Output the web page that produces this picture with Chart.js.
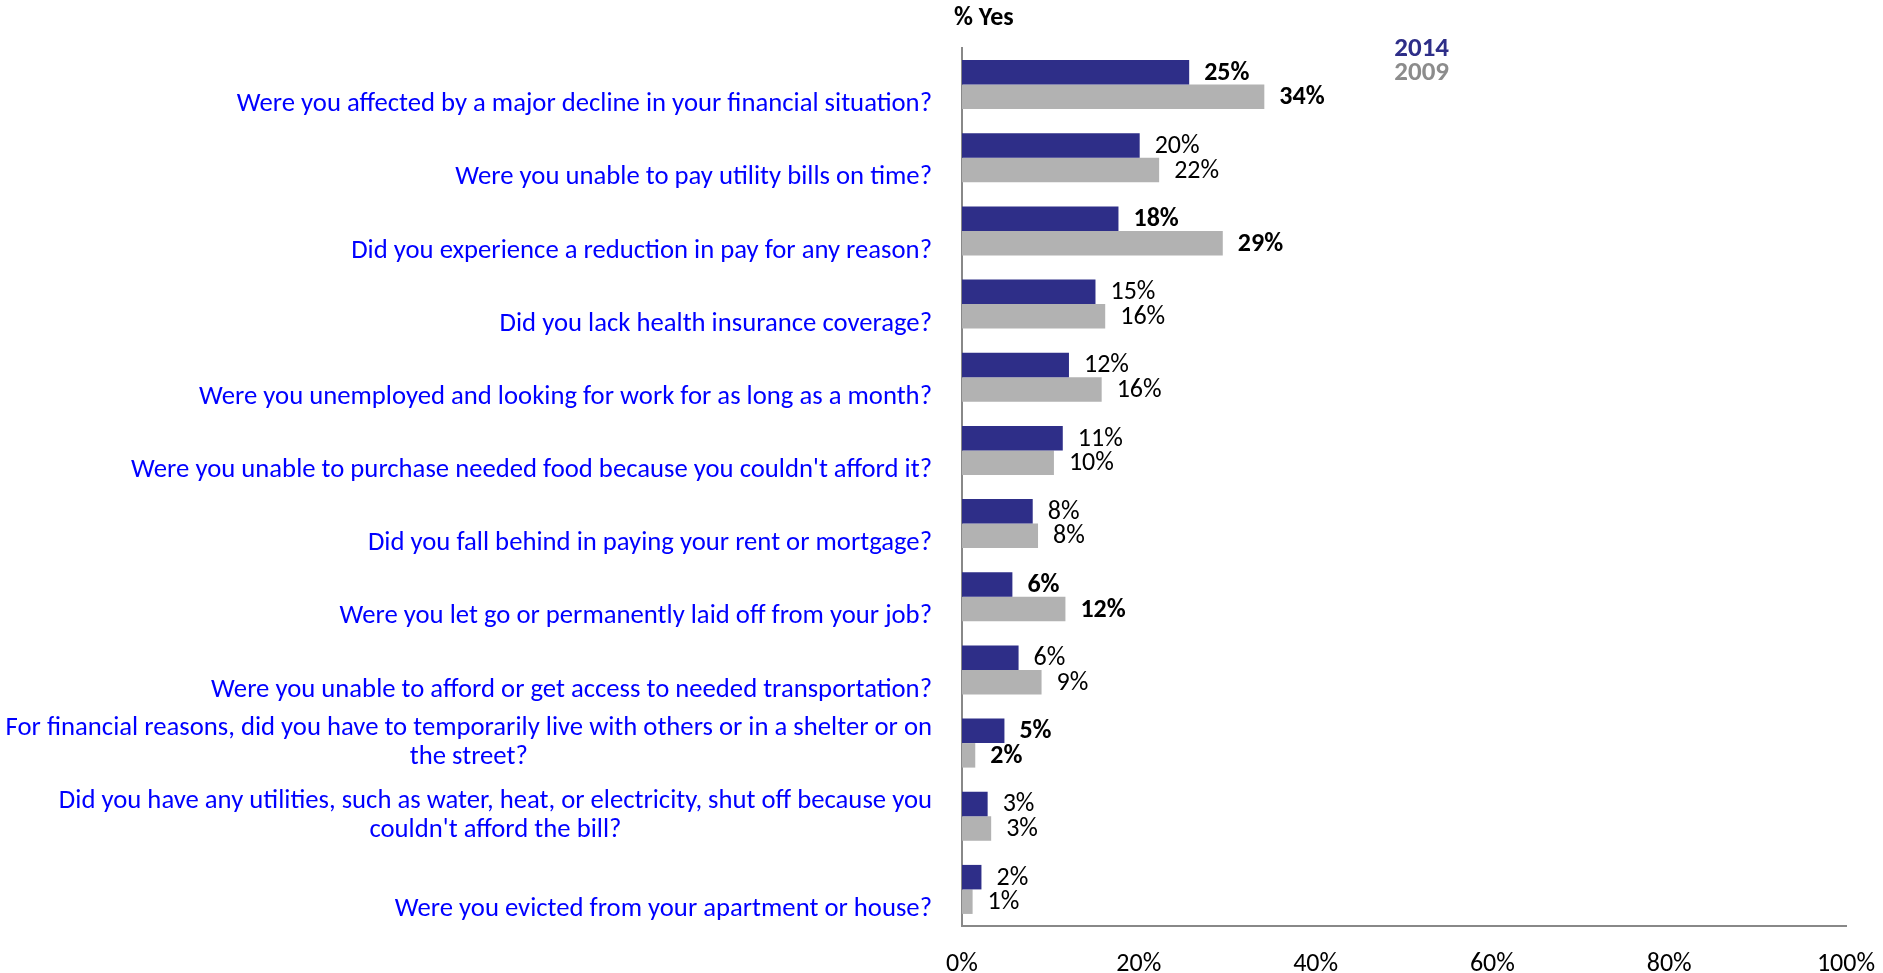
<!DOCTYPE html>
<html>
<head>
<meta charset="utf-8">
<script src="https://cdn.jsdelivr.net/npm/chart.js@4.4.1/dist/chart.umd.min.js"></script>
<style>
html,body{margin:0;padding:0;background:#fff;}
#wrap{width:1883px;height:973px;position:relative;}
</style>
</head>
<body>
<div id="wrap"><canvas id="c" width="1883" height="973"></canvas></div>
<script>
const categories = [
  "Were you affected by a major decline in your financial situation?",
  "Were you unable to pay utility bills on time?",
  "Did you experience a reduction in pay for any reason?",
  "Did you lack health insurance coverage?",
  "Were you unemployed and looking for work for as long as a month?",
  "Were you unable to purchase needed food because you couldn't afford it?",
  "Did you fall behind in paying your rent or mortgage?",
  "Were you let go or permanently laid off from your job?",
  "Were you unable to afford or get access to needed transportation?",
  ["For financial reasons, did you have to temporarily live with others or in a shelter or on", "the street?"],
  ["Did you have any utilities, such as water, heat, or electricity, shut off because you", "couldn't afford the bill?"],
  "Were you evicted from your apartment or house?"
];
const values2014 = [25.7, 20.1, 17.7, 15.1, 12.1, 11.4, 8.0, 5.7, 6.4, 4.8, 2.9, 2.2];
const values2009 = [34.2, 22.3, 29.5, 16.2, 15.8, 10.4, 8.6, 11.7, 9.0, 1.5, 3.3, 1.2];
const labels2014 = ["25%", "20%", "18%", "15%", "12%", "11%", "8%", "6%", "6%", "5%", "3%", "2%"];
const labels2009 = ["34%", "22%", "29%", "16%", "16%", "10%", "8%", "12%", "9%", "2%", "3%", "1%"];
const significantRows = [0, 2, 7, 9];
const xTicks = [0, 20, 40, 60, 80, 100];
const seriesNames = ["2014", "2009"];

const FONT = "Carlito, Lato, 'Open Sans', sans-serif";
const NAVY = "#2E2E88";
const GREY = "#B2B2B2";
const LEGEND_GREY = "#8C8C8C";
const BLUE = "#0000FF";

const customDraw = {
  id: 'customDraw',
  afterDatasetsDraw(chart) {
    const ctx = chart.ctx;
    const area = chart.chartArea;
    const yScale = chart.scales.y;
    ctx.save();
    // category labels
    ctx.fillStyle = BLUE;
    ctx.font = "26.7px " + FONT;
    ctx.textBaseline = 'middle';
    const xRight = area.left - 30;
    categories.forEach((lab, i) => {
      const yc = yScale.getPixelForValue(i);
      if (!Array.isArray(lab)) {
        ctx.textAlign = 'right';
        ctx.fillText(lab, xRight, yc + 20);
      } else {
        const widest = Math.max(...lab.map(l => ctx.measureText(l).width));
        const cx = xRight - widest / 2;
        const lh = 29;
        ctx.textAlign = 'center';
        lab.forEach((l, k) => {
          ctx.fillText(l, cx, yc - (lab.length - 1) * lh / 2 + k * lh);
        });
      }
    });
    // data labels
    ctx.fillStyle = '#000';
    ctx.textAlign = 'left';
    const lblSets = [labels2014, labels2009];
    chart.data.datasets.forEach((ds, di) => {
      const meta = chart.getDatasetMeta(di);
      meta.data.forEach((bar, i) => {
        ctx.font = (significantRows.includes(i) ? "bold " : "") + "26px " + FONT;
        ctx.fillText(lblSets[di][i], bar.x + 15, bar.y + 1);
      });
    });
    // title
    ctx.font = "bold 26px " + FONT;
    ctx.fillText("% Yes", area.left - 8, 18);
    // legend
    ctx.font = "bold 27px " + FONT;
    ctx.textAlign = 'right';
    ctx.fillStyle = NAVY;
    ctx.fillText(seriesNames[0], 1449, 49);
    ctx.fillStyle = LEGEND_GREY;
    ctx.fillText(seriesNames[1], 1449, 73);
    ctx.restore();
  }
};

new Chart(document.getElementById('c'), {
  type: 'bar',
  data: {
    labels: categories,
    datasets: [
      { label: seriesNames[0], data: values2014, backgroundColor: NAVY, categoryPercentage: 0.67, barPercentage: 1.0 },
      { label: seriesNames[1], data: values2009, backgroundColor: GREY, categoryPercentage: 0.67, barPercentage: 1.0 }
    ]
  },
  options: {
    indexAxis: 'y',
    responsive: false,
    animation: false,
    events: [],
    layout: { padding: { top: 48, right: 37, left: 0, bottom: 0 } },
    plugins: { legend: { display: false }, tooltip: { enabled: false }, title: { display: false } },
    scales: {
      x: {
        min: 0, max: 100,
        afterBuildTicks(scale) { scale.ticks = xTicks.map(v => ({ value: v })); },
        afterFit(scale) { scale.height = 47; scale.paddingLeft = 0; scale.paddingRight = 0; },
        grid: { display: false, drawTicks: false },
        border: { display: true, color: '#888888', width: 2 },
        ticks: {
          padding: 23,
          color: '#000',
          font: { family: FONT, size: 26 },
          callback: v => v + '%'
        }
      },
      y: {
        afterFit(scale) { scale.width = 962; scale.paddingTop = 0; scale.paddingBottom = 0; },
        grid: { display: false, drawTicks: false },
        border: { display: true, color: '#888888', width: 2 },
        ticks: { display: false }
      }
    }
  },
  plugins: [customDraw]
});
</script>
</body>
</html>
